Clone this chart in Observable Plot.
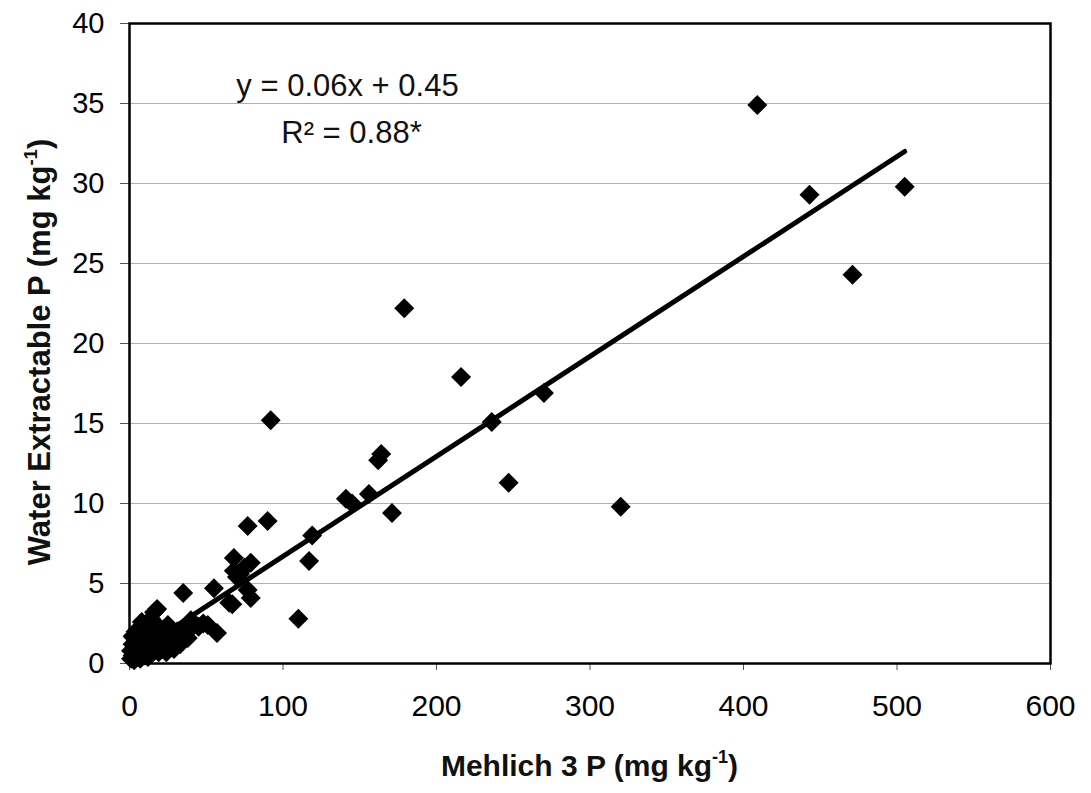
<!DOCTYPE html>
<html>
<head>
<meta charset="utf-8">
<script src="https://cdn.jsdelivr.net/npm/d3@7"></script>
<script src="https://cdn.jsdelivr.net/npm/@observablehq/plot@0.6"></script>
<style>
  html, body { margin: 0; padding: 0; background: white; }
  #chart svg { display: block; }
</style>
</head>
<body>
<div id="chart"></div>
<script>
// Mehlich 3 P (x) and Water Extractable P (y), mg kg-1
const mehlichP = [
  1, 1, 2, 2, 3, 3, 3, 4, 4, 5, 5, 6, 6, 7, 7, 8, 8, 9, 9, 10,
  10, 11, 12, 12, 13, 14, 14, 15, 16, 17, 18, 19, 20, 21, 22, 23, 25, 26, 27, 28,
  29, 30, 31, 33, 33, 36, 38, 40, 42, 45, 48, 25, 18, 14, 16, 35, 55, 57, 51, 40,
  65, 67, 68, 68, 70, 72, 75, 77, 79, 79, 77, 90, 119, 117, 110, 92, 141, 145, 156, 171,
  162, 164, 179, 216, 236, 270, 247, 320, 409, 443, 505, 471,
  2, 4, 6, 8, 11, 13, 15, 20, 24, 10
];
const waterP = [
  0.3, 0.8, 0.5, 1.2, 0.2, 0.9, 1.6, 0.6, 2.0, 0.4, 1.1, 0.8, 1.5, 0.3, 2.2, 1.0, 0.6, 1.3, 1.8, 0.5,
  2.4, 0.9, 1.5, 0.4, 2.0, 1.1, 0.6, 1.7, 0.8, 1.3, 2.1, 0.7, 1.0, 1.6, 0.9, 1.3, 1.9, 1.1, 1.0, 1.5,
  0.9, 1.3, 2.0, 1.7, 1.2, 2.2, 1.6, 2.2, 2.5, 2.3, 2.5, 2.4, 3.4, 2.8, 3.2, 4.4, 4.7, 1.9, 2.4, 2.7,
  3.8, 3.7, 6.6, 5.8, 5.4, 5.6, 6.0, 4.6, 6.3, 4.1, 8.6, 8.9, 8.0, 6.4, 2.8, 15.2, 10.3, 10.0, 10.6, 9.4,
  12.7, 13.1, 22.2, 17.9, 15.1, 16.9, 11.3, 9.8, 34.9, 29.3, 29.8, 24.3,
  1.7, 1.4, 2.0, 2.6, 1.9, 0.8, 2.5, 2.2, 0.7, 1.7
];
// fitted trend line y = 0.06x + 0.45 (as drawn)
const fitX = [0, 505];
const fitY = [0.45, 32.0];
const xTicks = [0, 100, 200, 300, 400, 500, 600];
const yTicks = [0, 5, 10, 15, 20, 25, 30, 35, 40];
const equationText = "y = 0.06x + 0.45";
const r2Text = "R² = 0.88*";
const xTitle = ["Mehlich 3 P (mg kg", "-1", ")"];
const yTitle = ["Water Extractable P (mg kg", "-1", ")"];

const points = mehlichP.map((x, i) => ({x, y: waterP[i]}));
const fit = fitX.map((x, i) => ({x, y: fitY[i]}));

const W = 1091, H = 793;
const mL = 129, mR = 41, mT = 23, mB = 130;

const chart = Plot.plot({
  width: W,
  height: H,
  marginLeft: mL,
  marginRight: mR,
  marginTop: mT,
  marginBottom: mB,
  style: {fontFamily: "'Liberation Sans', Arial, sans-serif", background: "white", color: "black"},
  x: {domain: [0, 600], label: null},
  y: {domain: [0, 40], label: null},
  marks: [
    Plot.gridY(yTicks, {stroke: "#b0b0b0", strokeOpacity: 1, strokeWidth: 1.2}),
    Plot.axisY(yTicks, {tickSize: 9, tickPadding: 16, fontSize: 29, label: null, stroke: "#555"}),
    Plot.axisX(xTicks, {tickSize: 7, tickPadding: 24, fontSize: 30, label: null, stroke: "#555"}),
    Plot.frame({stroke: "black", strokeWidth: 2.5}),
    Plot.line(fit, {x: "x", y: "y", stroke: "black", strokeWidth: 5}),
    Plot.dot(points, {x: "x", y: "y", symbol: "diamond2", r: 9, fill: "black", stroke: "none"}),
    Plot.text([equationText], {frameAnchor: "top-left", dx: 218, dy: 72, textAnchor: "middle", lineAnchor: "bottom", fontSize: 31, fill: "#111"}),
    Plot.text([r2Text], {frameAnchor: "top-left", dx: 222, dy: 119, textAnchor: "middle", lineAnchor: "bottom", fontSize: 31, fill: "#111"})
  ]
});

document.getElementById("chart").appendChild(chart);

const svg = d3.select(chart);
function addTitle(parts, transform, size) {
  const t = svg.append("text")
    .attr("transform", transform)
    .attr("text-anchor", "middle")
    .attr("font-family", "'Liberation Sans', Arial, sans-serif")
    .attr("font-weight", "bold")
    .attr("font-size", size)
    .attr("fill", "#111");
  t.append("tspan").text(parts[0]);
  t.append("tspan").attr("font-size", size * 0.6).attr("dy", -size * 0.42).text(parts[1]);
  t.append("tspan").attr("dy", size * 0.42).text(parts[2]);
}
addTitle(xTitle, `translate(${(mL + (W - mR)) / 2},776)`, 30);
addTitle(yTitle, `translate(50,352) rotate(-90)`, 31);
</script>
</body>
</html>
